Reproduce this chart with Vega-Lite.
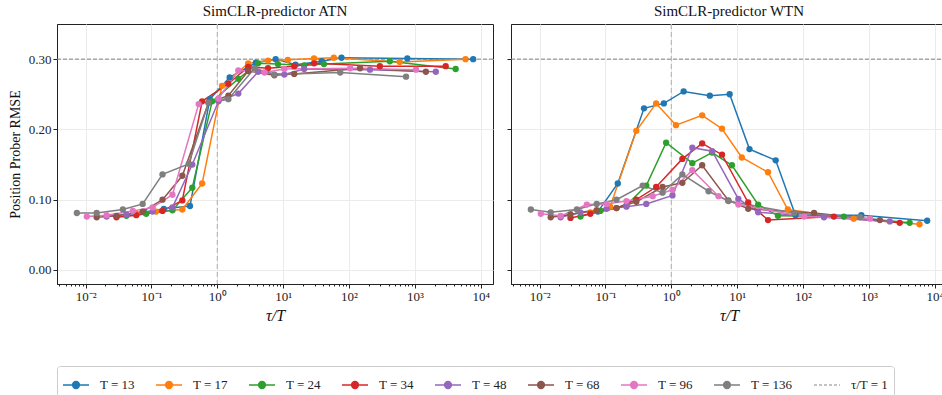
{
  "$schema": "https://vega.github.io/schema/vega-lite/v6.json",
  "background": "white",
  "padding": {"left": 7, "top": 3, "right": 0, "bottom": 0},
  "config": {
    "font": "Liberation Serif",
    "view": {"stroke": "#222222", "strokeWidth": 1},
    "axis": {"labelFont": "Liberation Serif", "labelFontSize": 13, "labelColor": "#222222", "titleFont": "Liberation Serif", "titleFontWeight": "normal", "titleColor": "#111111", "domainColor": "#222222", "tickColor": "#222222", "gridColor": "#ebebeb", "labelPadding": 2},
    "title": {"font": "Liberation Serif", "fontSize": 15, "fontWeight": "normal", "offset": 4, "color": "#111111"},
    "legend": {"labelFont": "Liberation Serif", "labelFontSize": 13, "labelColor": "#222222"}
  },
  "datasets": {
    "pts": [
      {"panel":"ATN","T":"T = 13","tau_T":0.07692,"rmse":0.082},{"panel":"ATN","T":"T = 13","tau_T":0.15385,"rmse":0.087},{"panel":"ATN","T":"T = 13","tau_T":0.38462,"rmse":0.091},{"panel":"ATN","T":"T = 13","tau_T":0.76923,"rmse":0.243},{"panel":"ATN","T":"T = 13","tau_T":1.53846,"rmse":0.274},{"panel":"ATN","T":"T = 13","tau_T":3.84615,"rmse":0.295},{"panel":"ATN","T":"T = 13","tau_T":7.69231,"rmse":0.300},{"panel":"ATN","T":"T = 13","tau_T":15.3846,"rmse":0.292},{"panel":"ATN","T":"T = 13","tau_T":38.4615,"rmse":0.297},{"panel":"ATN","T":"T = 13","tau_T":76.9231,"rmse":0.302},{"panel":"ATN","T":"T = 13","tau_T":769.231,"rmse":0.301},{"panel":"ATN","T":"T = 13","tau_T":7692.31,"rmse":0.300},
      {"panel":"ATN","T":"T = 17","tau_T":0.05882,"rmse":0.080},{"panel":"ATN","T":"T = 17","tau_T":0.11765,"rmse":0.083},{"panel":"ATN","T":"T = 17","tau_T":0.29412,"rmse":0.086},{"panel":"ATN","T":"T = 17","tau_T":0.58824,"rmse":0.123},{"panel":"ATN","T":"T = 17","tau_T":1.17647,"rmse":0.262},{"panel":"ATN","T":"T = 17","tau_T":2.94118,"rmse":0.294},{"panel":"ATN","T":"T = 17","tau_T":5.88235,"rmse":0.298},{"panel":"ATN","T":"T = 17","tau_T":11.7647,"rmse":0.299},{"panel":"ATN","T":"T = 17","tau_T":29.4118,"rmse":0.301},{"panel":"ATN","T":"T = 17","tau_T":58.8235,"rmse":0.302},{"panel":"ATN","T":"T = 17","tau_T":588.235,"rmse":0.296},{"panel":"ATN","T":"T = 17","tau_T":5882.35,"rmse":0.300},
      {"panel":"ATN","T":"T = 24","tau_T":0.04167,"rmse":0.077},{"panel":"ATN","T":"T = 24","tau_T":0.08333,"rmse":0.080},{"panel":"ATN","T":"T = 24","tau_T":0.20833,"rmse":0.085},{"panel":"ATN","T":"T = 24","tau_T":0.41667,"rmse":0.117},{"panel":"ATN","T":"T = 24","tau_T":0.83333,"rmse":0.240},{"panel":"ATN","T":"T = 24","tau_T":2.08333,"rmse":0.272},{"panel":"ATN","T":"T = 24","tau_T":4.16667,"rmse":0.294},{"panel":"ATN","T":"T = 24","tau_T":8.33333,"rmse":0.293},{"panel":"ATN","T":"T = 24","tau_T":20.8333,"rmse":0.291},{"panel":"ATN","T":"T = 24","tau_T":41.6667,"rmse":0.293},{"panel":"ATN","T":"T = 24","tau_T":416.667,"rmse":0.297},{"panel":"ATN","T":"T = 24","tau_T":4166.67,"rmse":0.286},
      {"panel":"ATN","T":"T = 34","tau_T":0.02941,"rmse":0.075},{"panel":"ATN","T":"T = 34","tau_T":0.05882,"rmse":0.078},{"panel":"ATN","T":"T = 34","tau_T":0.14706,"rmse":0.084},{"panel":"ATN","T":"T = 34","tau_T":0.29412,"rmse":0.099},{"panel":"ATN","T":"T = 34","tau_T":0.58824,"rmse":0.240},{"panel":"ATN","T":"T = 34","tau_T":1.47059,"rmse":0.265},{"panel":"ATN","T":"T = 34","tau_T":2.94118,"rmse":0.289},{"panel":"ATN","T":"T = 34","tau_T":5.88235,"rmse":0.287},{"panel":"ATN","T":"T = 34","tau_T":14.7059,"rmse":0.290},{"panel":"ATN","T":"T = 34","tau_T":29.4118,"rmse":0.294},{"panel":"ATN","T":"T = 34","tau_T":294.118,"rmse":0.290},{"panel":"ATN","T":"T = 34","tau_T":2941.18,"rmse":0.290},
      {"panel":"ATN","T":"T = 48","tau_T":0.02083,"rmse":0.076},{"panel":"ATN","T":"T = 48","tau_T":0.04167,"rmse":0.079},{"panel":"ATN","T":"T = 48","tau_T":0.10417,"rmse":0.083},{"panel":"ATN","T":"T = 48","tau_T":0.20833,"rmse":0.089},{"panel":"ATN","T":"T = 48","tau_T":0.41667,"rmse":0.150},{"panel":"ATN","T":"T = 48","tau_T":1.04167,"rmse":0.240},{"panel":"ATN","T":"T = 48","tau_T":2.08333,"rmse":0.251},{"panel":"ATN","T":"T = 48","tau_T":4.16667,"rmse":0.282},{"panel":"ATN","T":"T = 48","tau_T":10.4167,"rmse":0.278},{"panel":"ATN","T":"T = 48","tau_T":20.8333,"rmse":0.286},{"panel":"ATN","T":"T = 48","tau_T":208.333,"rmse":0.285},{"panel":"ATN","T":"T = 48","tau_T":2083.33,"rmse":0.282},
      {"panel":"ATN","T":"T = 68","tau_T":0.01471,"rmse":0.075},{"panel":"ATN","T":"T = 68","tau_T":0.02941,"rmse":0.077},{"panel":"ATN","T":"T = 68","tau_T":0.07353,"rmse":0.083},{"panel":"ATN","T":"T = 68","tau_T":0.14706,"rmse":0.100},{"panel":"ATN","T":"T = 68","tau_T":0.29412,"rmse":0.134},{"panel":"ATN","T":"T = 68","tau_T":0.73529,"rmse":0.238},{"panel":"ATN","T":"T = 68","tau_T":1.47059,"rmse":0.248},{"panel":"ATN","T":"T = 68","tau_T":2.94118,"rmse":0.283},{"panel":"ATN","T":"T = 68","tau_T":7.35294,"rmse":0.277},{"panel":"ATN","T":"T = 68","tau_T":14.7059,"rmse":0.279},{"panel":"ATN","T":"T = 68","tau_T":147.059,"rmse":0.287},{"panel":"ATN","T":"T = 68","tau_T":1470.59,"rmse":0.282},
      {"panel":"ATN","T":"T = 96","tau_T":0.01042,"rmse":0.076},{"panel":"ATN","T":"T = 96","tau_T":0.02083,"rmse":0.078},{"panel":"ATN","T":"T = 96","tau_T":0.05208,"rmse":0.084},{"panel":"ATN","T":"T = 96","tau_T":0.10417,"rmse":0.089},{"panel":"ATN","T":"T = 96","tau_T":0.20833,"rmse":0.107},{"panel":"ATN","T":"T = 96","tau_T":0.52083,"rmse":0.236},{"panel":"ATN","T":"T = 96","tau_T":1.04167,"rmse":0.244},{"panel":"ATN","T":"T = 96","tau_T":2.08333,"rmse":0.284},{"panel":"ATN","T":"T = 96","tau_T":5.20833,"rmse":0.281},{"panel":"ATN","T":"T = 96","tau_T":10.4167,"rmse":0.286},{"panel":"ATN","T":"T = 96","tau_T":104.167,"rmse":0.287},{"panel":"ATN","T":"T = 96","tau_T":1041.67,"rmse":0.285},
      {"panel":"ATN","T":"T = 136","tau_T":0.00735,"rmse":0.081},{"panel":"ATN","T":"T = 136","tau_T":0.01471,"rmse":0.081},{"panel":"ATN","T":"T = 136","tau_T":0.03676,"rmse":0.086},{"panel":"ATN","T":"T = 136","tau_T":0.07353,"rmse":0.094},{"panel":"ATN","T":"T = 136","tau_T":0.14706,"rmse":0.136},{"panel":"ATN","T":"T = 136","tau_T":0.36765,"rmse":0.151},{"panel":"ATN","T":"T = 136","tau_T":0.73529,"rmse":0.238},{"panel":"ATN","T":"T = 136","tau_T":1.47059,"rmse":0.243},{"panel":"ATN","T":"T = 136","tau_T":3.67647,"rmse":0.287},{"panel":"ATN","T":"T = 136","tau_T":7.35294,"rmse":0.278},{"panel":"ATN","T":"T = 136","tau_T":73.5294,"rmse":0.281},{"panel":"ATN","T":"T = 136","tau_T":735.294,"rmse":0.275},
      {"panel":"WTN","T":"T = 13","tau_T":0.07692,"rmse":0.083},{"panel":"WTN","T":"T = 13","tau_T":0.15385,"rmse":0.123},{"panel":"WTN","T":"T = 13","tau_T":0.38462,"rmse":0.230},{"panel":"WTN","T":"T = 13","tau_T":0.76923,"rmse":0.237},{"panel":"WTN","T":"T = 13","tau_T":1.53846,"rmse":0.254},{"panel":"WTN","T":"T = 13","tau_T":3.84615,"rmse":0.248},{"panel":"WTN","T":"T = 13","tau_T":7.69231,"rmse":0.250},{"panel":"WTN","T":"T = 13","tau_T":15.3846,"rmse":0.172},{"panel":"WTN","T":"T = 13","tau_T":38.4615,"rmse":0.156},{"panel":"WTN","T":"T = 13","tau_T":76.9231,"rmse":0.078},{"panel":"WTN","T":"T = 13","tau_T":769.231,"rmse":0.078},{"panel":"WTN","T":"T = 13","tau_T":7692.31,"rmse":0.070},
      {"panel":"WTN","T":"T = 17","tau_T":0.05882,"rmse":0.082},{"panel":"WTN","T":"T = 17","tau_T":0.11765,"rmse":0.090},{"panel":"WTN","T":"T = 17","tau_T":0.29412,"rmse":0.198},{"panel":"WTN","T":"T = 17","tau_T":0.58824,"rmse":0.237},{"panel":"WTN","T":"T = 17","tau_T":1.17647,"rmse":0.206},{"panel":"WTN","T":"T = 17","tau_T":2.94118,"rmse":0.220},{"panel":"WTN","T":"T = 17","tau_T":5.88235,"rmse":0.201},{"panel":"WTN","T":"T = 17","tau_T":11.7647,"rmse":0.160},{"panel":"WTN","T":"T = 17","tau_T":29.4118,"rmse":0.139},{"panel":"WTN","T":"T = 17","tau_T":58.8235,"rmse":0.086},{"panel":"WTN","T":"T = 17","tau_T":588.235,"rmse":0.073},{"panel":"WTN","T":"T = 17","tau_T":5882.35,"rmse":0.065},
      {"panel":"WTN","T":"T = 24","tau_T":0.04167,"rmse":0.076},{"panel":"WTN","T":"T = 24","tau_T":0.08333,"rmse":0.084},{"panel":"WTN","T":"T = 24","tau_T":0.20833,"rmse":0.092},{"panel":"WTN","T":"T = 24","tau_T":0.41667,"rmse":0.120},{"panel":"WTN","T":"T = 24","tau_T":0.83333,"rmse":0.181},{"panel":"WTN","T":"T = 24","tau_T":2.08333,"rmse":0.152},{"panel":"WTN","T":"T = 24","tau_T":4.16667,"rmse":0.167},{"panel":"WTN","T":"T = 24","tau_T":8.33333,"rmse":0.149},{"panel":"WTN","T":"T = 24","tau_T":20.8333,"rmse":0.093},{"panel":"WTN","T":"T = 24","tau_T":41.6667,"rmse":0.077},{"panel":"WTN","T":"T = 24","tau_T":416.667,"rmse":0.076},{"panel":"WTN","T":"T = 24","tau_T":4166.67,"rmse":0.067},
      {"panel":"WTN","T":"T = 34","tau_T":0.02941,"rmse":0.074},{"panel":"WTN","T":"T = 34","tau_T":0.05882,"rmse":0.080},{"panel":"WTN","T":"T = 34","tau_T":0.14706,"rmse":0.088},{"panel":"WTN","T":"T = 34","tau_T":0.29412,"rmse":0.100},{"panel":"WTN","T":"T = 34","tau_T":0.58824,"rmse":0.118},{"panel":"WTN","T":"T = 34","tau_T":1.47059,"rmse":0.158},{"panel":"WTN","T":"T = 34","tau_T":2.94118,"rmse":0.180},{"panel":"WTN","T":"T = 34","tau_T":5.88235,"rmse":0.164},{"panel":"WTN","T":"T = 34","tau_T":14.7059,"rmse":0.096},{"panel":"WTN","T":"T = 34","tau_T":29.4118,"rmse":0.071},{"panel":"WTN","T":"T = 34","tau_T":294.118,"rmse":0.076},{"panel":"WTN","T":"T = 34","tau_T":2941.18,"rmse":0.067},
      {"panel":"WTN","T":"T = 48","tau_T":0.02083,"rmse":0.075},{"panel":"WTN","T":"T = 48","tau_T":0.04167,"rmse":0.082},{"panel":"WTN","T":"T = 48","tau_T":0.10417,"rmse":0.087},{"panel":"WTN","T":"T = 48","tau_T":0.20833,"rmse":0.090},{"panel":"WTN","T":"T = 48","tau_T":0.41667,"rmse":0.094},{"panel":"WTN","T":"T = 48","tau_T":1.04167,"rmse":0.106},{"panel":"WTN","T":"T = 48","tau_T":2.08333,"rmse":0.174},{"panel":"WTN","T":"T = 48","tau_T":4.16667,"rmse":0.169},{"panel":"WTN","T":"T = 48","tau_T":10.4167,"rmse":0.101},{"panel":"WTN","T":"T = 48","tau_T":20.8333,"rmse":0.082},{"panel":"WTN","T":"T = 48","tau_T":208.333,"rmse":0.075},{"panel":"WTN","T":"T = 48","tau_T":2083.33,"rmse":0.069},
      {"panel":"WTN","T":"T = 68","tau_T":0.01471,"rmse":0.075},{"panel":"WTN","T":"T = 68","tau_T":0.02941,"rmse":0.079},{"panel":"WTN","T":"T = 68","tau_T":0.07353,"rmse":0.085},{"panel":"WTN","T":"T = 68","tau_T":0.14706,"rmse":0.088},{"panel":"WTN","T":"T = 68","tau_T":0.29412,"rmse":0.097},{"panel":"WTN","T":"T = 68","tau_T":0.73529,"rmse":0.118},{"panel":"WTN","T":"T = 68","tau_T":1.47059,"rmse":0.124},{"panel":"WTN","T":"T = 68","tau_T":2.94118,"rmse":0.149},{"panel":"WTN","T":"T = 68","tau_T":7.35294,"rmse":0.099},{"panel":"WTN","T":"T = 68","tau_T":14.7059,"rmse":0.087},{"panel":"WTN","T":"T = 68","tau_T":147.059,"rmse":0.081},{"panel":"WTN","T":"T = 68","tau_T":1470.59,"rmse":0.071},
      {"panel":"WTN","T":"T = 96","tau_T":0.01042,"rmse":0.080},{"panel":"WTN","T":"T = 96","tau_T":0.02083,"rmse":0.077},{"panel":"WTN","T":"T = 96","tau_T":0.05208,"rmse":0.093},{"panel":"WTN","T":"T = 96","tau_T":0.10417,"rmse":0.094},{"panel":"WTN","T":"T = 96","tau_T":0.20833,"rmse":0.098},{"panel":"WTN","T":"T = 96","tau_T":0.52083,"rmse":0.105},{"panel":"WTN","T":"T = 96","tau_T":1.04167,"rmse":0.114},{"panel":"WTN","T":"T = 96","tau_T":2.08333,"rmse":0.142},{"panel":"WTN","T":"T = 96","tau_T":5.20833,"rmse":0.105},{"panel":"WTN","T":"T = 96","tau_T":10.4167,"rmse":0.093},{"panel":"WTN","T":"T = 96","tau_T":104.167,"rmse":0.076},{"panel":"WTN","T":"T = 96","tau_T":1041.67,"rmse":0.073},
      {"panel":"WTN","T":"T = 136","tau_T":0.00735,"rmse":0.086},{"panel":"WTN","T":"T = 136","tau_T":0.01471,"rmse":0.082},{"panel":"WTN","T":"T = 136","tau_T":0.03676,"rmse":0.086},{"panel":"WTN","T":"T = 136","tau_T":0.07353,"rmse":0.094},{"panel":"WTN","T":"T = 136","tau_T":0.14706,"rmse":0.100},{"panel":"WTN","T":"T = 136","tau_T":0.36765,"rmse":0.120},{"panel":"WTN","T":"T = 136","tau_T":0.73529,"rmse":0.110},{"panel":"WTN","T":"T = 136","tau_T":1.47059,"rmse":0.136},{"panel":"WTN","T":"T = 136","tau_T":3.67647,"rmse":0.112},{"panel":"WTN","T":"T = 136","tau_T":7.35294,"rmse":0.098},{"panel":"WTN","T":"T = 136","tau_T":73.5294,"rmse":0.081},{"panel":"WTN","T":"T = 136","tau_T":735.294,"rmse":0.075}
    ]
  },
  "spacing": 12,
  "resolve": {"scale": {"color": "shared"}, "legend": {"color": "shared"}},
  "hconcat": [
    {
      "width": 436, "height": 260,
      "title": "SimCLR-predictor ATN",
      "layer": [
        {"data": {"values": [{"rmse": 0.3}]}, "mark": {"type": "rule", "color": "#808080", "strokeDash": [4, 2], "strokeWidth": 1}, "encoding": {"y": {"field": "rmse", "type": "quantitative"}}},
        {"data": {"values": [{"tau_T": 1}]}, "mark": {"type": "rule", "color": "#b8b8b8", "strokeDash": [5, 3], "strokeWidth": 1.2}, "encoding": {"x": {"field": "tau_T", "type": "quantitative"}}},
        {"data": {"name": "pts"}, "transform": [{"filter": "datum.panel == 'ATN'"}], "mark": {"type": "line", "strokeWidth": 1.5},
         "encoding": {
           "x": {"field": "tau_T", "type": "quantitative", "scale": {"type": "log", "domain": [0.003673, 15382], "nice": false},
                 "axis": {"title": "τ/T", "titleFontStyle": "italic", "titleFontSize": 16, "titlePadding": 4,
                          "values": [0.004,0.005,0.006,0.007,0.008,0.009,0.01,0.02,0.03,0.04,0.05,0.06,0.07,0.08,0.09,0.1,0.2,0.3,0.4,0.5,0.6,0.7,0.8,0.9,1,2,3,4,5,6,7,8,9,10,20,30,40,50,60,70,80,90,100,200,300,400,500,600,700,800,900,1000,2000,3000,4000,5000,6000,7000,8000,9000,10000],
                          "labelExpr": "abs(log(datum.value)/LN10 - round(log(datum.value)/LN10)) < 0.001 ? '10' + ['⁻²','⁻¹','⁰','¹','²','³','⁴'][round(log(datum.value)/LN10) + 2] : ''",
                          "labelOverlap": false, "labelFlush": false,
                          "tickSize": {"condition": {"test": "abs(log(datum.value)/LN10 - round(log(datum.value)/LN10)) < 0.001", "value": 4}, "value": 2},
                          "gridOpacity": {"condition": {"test": "abs(log(datum.value)/LN10 - round(log(datum.value)/LN10)) < 0.001", "value": 1}, "value": 0}}},
           "y": {"field": "rmse", "type": "quantitative", "scale": {"domain": [-0.02, 0.35], "nice": false, "zero": false},
                 "axis": {"title": "Position Prober RMSE", "titleFontSize": 14, "titlePadding": 6, "values": [0, 0.05, 0.1, 0.15, 0.2, 0.25, 0.3, 0.35], "format": ".2f", "tickSize": 4}},
           "color": {"field": "T", "type": "nominal",
                     "scale": {"domain": ["T = 13","T = 17","T = 24","T = 34","T = 48","T = 68","T = 96","T = 136","τ/T = 1"], "range": ["#1f77b4","#ff7f0e","#2ca02c","#d62728","#9467bd","#8c564b","#e377c2","#7f7f7f","#b0b0b0"]},
                     "legend": {"orient": "none", "legendX": 0, "legendY": 342, "direction": "horizontal", "title": null,
                                "symbolType": "M-1,0L1,0M0.26,0A0.26,0.26,0,1,1,-0.26,0A0.26,0.26,0,1,1,0.26,0Z",
                                "symbolSize": 676, "symbolStrokeWidth": 1.5, "labelOffset": 10, "columnPadding": 18,
                                "strokeColor": "#cccccc", "padding": 5, "cornerRadius": 3,
                                "encode": {"symbols": {"update": {
                                  "fill": {"signal": "datum.value === 'τ/T = 1' ? 'transparent' : scale('color', datum.value)"},
                                  "stroke": {"signal": "scale('color', datum.value)"},
                                  "shape": {"signal": "datum.value === 'τ/T = 1' ? 'M-1,0L1,0' : 'M-1,0L1,0M0.26,0A0.26,0.26,0,1,1,-0.26,0A0.26,0.26,0,1,1,0.26,0Z'"},
                                  "strokeDash": {"signal": "datum.value === 'τ/T = 1' ? [3, 2] : [100, 0]"},
                                  "opacity": {"value": 1}}}}}}
         }},
        {"data": {"name": "pts"}, "transform": [{"filter": "datum.panel == 'ATN'"}], "mark": {"type": "point", "filled": true, "size": 40, "opacity": 1},
         "encoding": {
           "x": {"field": "tau_T", "type": "quantitative"},
           "y": {"field": "rmse", "type": "quantitative"},
           "color": {"field": "T", "type": "nominal"}
         }}
      ]
    },
    {
      "width": 436, "height": 260,
      "title": "SimCLR-predictor WTN",
      "layer": [
        {"data": {"values": [{"rmse": 0.3}]}, "mark": {"type": "rule", "color": "#808080", "strokeDash": [4, 2], "strokeWidth": 1}, "encoding": {"y": {"field": "rmse", "type": "quantitative"}}},
        {"data": {"values": [{"tau_T": 1}]}, "mark": {"type": "rule", "color": "#b8b8b8", "strokeDash": [5, 3], "strokeWidth": 1.2}, "encoding": {"x": {"field": "tau_T", "type": "quantitative"}}},
        {"data": {"name": "pts"}, "transform": [{"filter": "datum.panel == 'WTN'"}], "mark": {"type": "line", "strokeWidth": 1.5},
         "encoding": {
           "x": {"field": "tau_T", "type": "quantitative", "scale": {"type": "log", "domain": [0.003673, 15382], "nice": false},
                 "axis": {"title": "τ/T", "titleFontStyle": "italic", "titleFontSize": 16, "titlePadding": 4,
                          "values": [0.004,0.005,0.006,0.007,0.008,0.009,0.01,0.02,0.03,0.04,0.05,0.06,0.07,0.08,0.09,0.1,0.2,0.3,0.4,0.5,0.6,0.7,0.8,0.9,1,2,3,4,5,6,7,8,9,10,20,30,40,50,60,70,80,90,100,200,300,400,500,600,700,800,900,1000,2000,3000,4000,5000,6000,7000,8000,9000,10000],
                          "labelExpr": "abs(log(datum.value)/LN10 - round(log(datum.value)/LN10)) < 0.001 ? '10' + ['⁻²','⁻¹','⁰','¹','²','³','⁴'][round(log(datum.value)/LN10) + 2] : ''",
                          "labelOverlap": false, "labelFlush": false,
                          "tickSize": {"condition": {"test": "abs(log(datum.value)/LN10 - round(log(datum.value)/LN10)) < 0.001", "value": 4}, "value": 2},
                          "gridOpacity": {"condition": {"test": "abs(log(datum.value)/LN10 - round(log(datum.value)/LN10)) < 0.001", "value": 1}, "value": 0}}},
           "y": {"field": "rmse", "type": "quantitative", "scale": {"domain": [-0.02, 0.35], "nice": false, "zero": false},
                 "axis": {"title": null, "labels": false, "values": [0, 0.05, 0.1, 0.15, 0.2, 0.25, 0.3, 0.35], "tickSize": 4}},
           "color": {"field": "T", "type": "nominal"}
         }},
        {"data": {"name": "pts"}, "transform": [{"filter": "datum.panel == 'WTN'"}], "mark": {"type": "point", "filled": true, "size": 40, "opacity": 1},
         "encoding": {
           "x": {"field": "tau_T", "type": "quantitative"},
           "y": {"field": "rmse", "type": "quantitative"},
           "color": {"field": "T", "type": "nominal"}
         }}
      ]
    }
  ]
}
